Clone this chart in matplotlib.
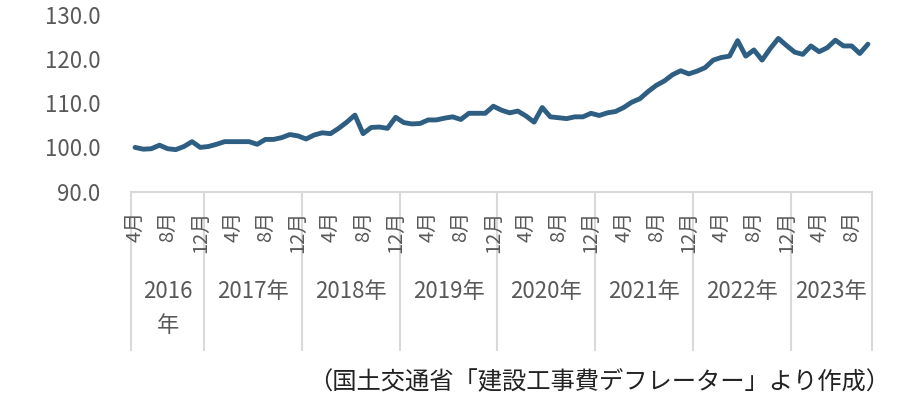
import matplotlib
matplotlib.use('Agg')
import matplotlib.pyplot as plt
import matplotlib.transforms as mtransforms

plt.rcParams['font.family'] = ['Noto Sans CJK JP', 'DejaVu Sans']

# monthly index values, first year starts in April
years = [2016, 2017, 2018, 2019, 2020, 2021, 2022, 2023]
first_month = 4
v2016 = [100.0, 99.6, 99.7, 100.5, 99.7, 99.5, 100.2, 101.3, 100.0]
v2017 = [100.2, 100.7, 101.3, 101.3, 101.3, 101.3, 100.7, 101.8, 101.8, 102.2, 102.9, 102.6]
v2018 = [101.9, 102.8, 103.3, 103.1, 104.3, 105.7, 107.3, 103.1, 104.5, 104.6, 104.3, 106.8]
v2019 = [105.6, 105.3, 105.4, 106.2, 106.2, 106.6, 106.9, 106.3, 107.7, 107.7, 107.7, 109.3]
v2020 = [108.4, 107.8, 108.2, 107.1, 105.7, 109.0, 106.9, 106.7, 106.5, 106.9, 106.9, 107.7]
v2021 = [107.2, 107.8, 108.1, 109.0, 110.2, 111.0, 112.6, 114.0, 115.0, 116.4, 117.3, 116.6]
v2022 = [117.2, 118.0, 119.7, 120.3, 120.6, 124.1, 120.6, 122.0, 119.7, 122.3, 124.6, 123.0]
v2023 = [121.5, 121.0, 122.9, 121.6, 122.5, 124.2, 122.9, 122.9, 121.2, 123.3]
series = [v2016, v2017, v2018, v2019, v2020, v2021, v2022, v2023]

month_ticks = [4, 8, 12]
y_ticks = [90, 100, 110, 120, 130]
source_note = '（国土交通省「建設工事費デフレーター」より作成）'

vals, months, year_of = [], [], []
for yr, vs in zip(years, series):
    start = first_month if yr == years[0] else 1
    for k, v in enumerate(vs):
        vals.append(v)
        months.append(start + k)
        year_of.append(yr)
x = list(range(len(vals)))

fig = plt.figure(figsize=(9.21, 4.17), dpi=100)
ax = fig.add_axes([131/921, 1-191.7/417, 741/921, 177.2/417])
ax.plot(x, vals, color='#2E5F82', linewidth=3.5, solid_joinstyle='round', solid_capstyle='round')
ax.set_xlim(-0.5, len(vals)-0.5)
ax.set_ylim(90, 130)
ax.set_yticks(y_ticks)
ax.set_yticklabels(['%.1f' % t for t in y_ticks])
ax.tick_params(axis='y', length=0, pad=22, labelsize=16, labelcolor='#595959')
ax.set_xticks([])
for s in ['left', 'right', 'top']:
    ax.spines[s].set_visible(False)
ax.spines['bottom'].set_color('#D9D9D9')
ax.spines['bottom'].set_linewidth(1.5)

trans = mtransforms.blended_transform_factory(ax.transData, ax.transAxes)
grid_c = '#D9D9D9'

# month labels
for i, m in enumerate(months):
    if m in month_ticks:
        ax.text(i, -0.105, '%d月' % m, transform=trans, rotation=90, ha='center', va='top',
                fontsize=14.5, color='#595959')

# year group dividers and labels
bounds = [0]
for i in range(1, len(year_of)):
    if year_of[i] != year_of[i-1]:
        bounds.append(i)
bounds.append(len(year_of))
for b in bounds:
    ax.plot([b-0.5, b-0.5], [0, -0.893], transform=trans, color=grid_c, linewidth=1.5, clip_on=False)
for j, yr in enumerate(years):
    a, b = bounds[j], bounds[j+1]
    lines = ['%d年' % yr]
    if b - a < 10:
        lines = ['%d' % yr, '年']   # short group: wraps like the original
    for k, part in enumerate(lines):
        ax.text((a + b - 1) / 2, -0.565 - 0.19 * k, part, transform=trans, ha='center', va='center',
                fontsize=16, color='#595959')

fig.text(890/921, 1-382/417, source_note, ha='right', va='center', fontsize=17.5, color='#222222')

fig.savefig('out.png', dpi=100)
